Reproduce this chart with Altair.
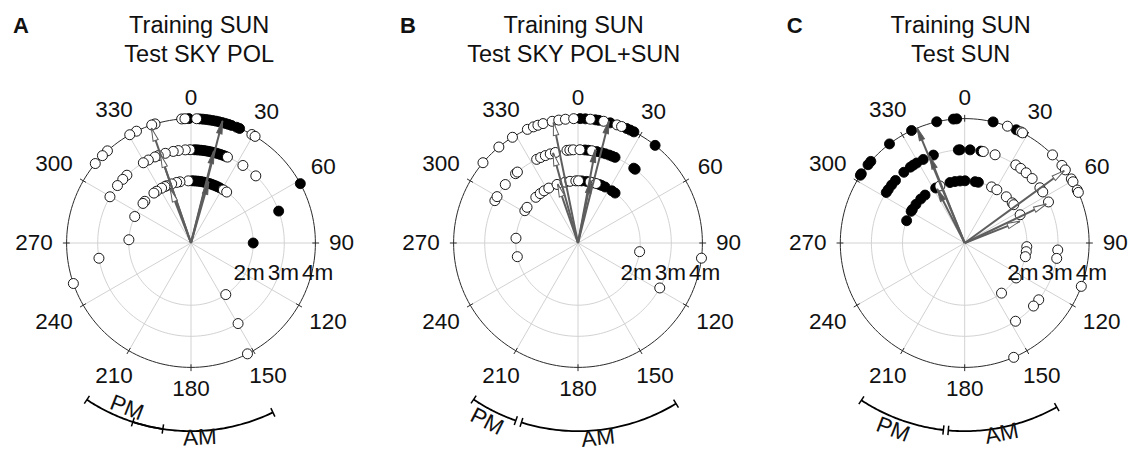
import altair as alt
import pandas as pd

# ---------------------------------------------------------------- geometry
PPM = 31.1                 # pixels per metre on the radial axis
PANEL_W, PANEL_H = 377, 450
CY = 243                   # vertical position of the pole in every panel
FONT = "Liberation Sans"
INK = "#111111"
GRID = "#d2d2d2"
ARROW = "#5e5e5e"
LABEL_SIZE = 22.5

# ---------------------------------------------------------------- shared axes
SPOKE_ANGLES = list(range(0, 360, 30))
ANGLE_TEXT = [str(a) for a in SPOKE_ANGLES]
GRID_RINGS = [2, 3]
OUTER_RING = 4
RING_LABELS = ["2m", "3m", "4m"]
RING_LABEL_DIST = [2, 3, 4]

# ---------------------------------------------------------------- panel A
A_TITLE = ["Training SUN", "Test SKY POL"]
A_FILLED_2M = [1, 3, 5, 7, 9, 11, 13, 15, 17, 19, 21, 23, 25, 27.5, 90]
A_OPEN_2M = [-2.5, -10.2, -13.3, -18.1, -23, -24.8, -28.2, -33.6, -36.6,
             -47.9, -50.5, -64.8, 273, 31.4, 35, 146]
A_FILLED_3M = [2, 3.5, 5, 6.5, 8, 9.5, 11, 12.5, 14, 15.5, 17, 18.5, 20, 21.5, 70]
A_OPEN_3M = [-0.6, -3.5, -7.8, -11, -16, -20.5, -22.7, -27.2, -30.7, -43.4,
             -47, -52, -60.3, 23, 33.8, 44, 149.7, 260.6]
A_FILLED_4M = [-1, 4, 5.5, 7, 8.5, 10, 11.5, 13, 14.5, 16, 17.5, 19, 21.5, 23, 61.5]
A_OPEN_4M = [-4.3, -2.8, 2.6, 29.3, 31, -16.8, -18.4, -26, -29.5, -42.2,
             -45.4, -50.3, 251, 153]
A_FILLED_VEC_ANG = [16, 14, 14.5]
A_FILLED_VEC_LEN = [2.05, 3.05, 4.05]
A_OPEN_VEC_ANG = [-21, -19, -19]
A_OPEN_VEC_LEN = [1.85, 3.0, 3.9]
A_PM_RANGE = [213.6, 188.6]
A_AM_RANGE = [198.0, 154.2]

# ---------------------------------------------------------------- panel B
B_TITLE = ["Training SUN", "Test SKY POL+SUN"]
B_FILLED_2M = [3.4, 8, 14.3, 20, 22.5, 25.8, 33, 36.6]
B_OPEN_2M = [-58.7, -55, -42.7, -37.4, -33, -28, -19.7, -12, -7.4, -2, 0.5,
             11.2, 17, 274.4, 257.3, 98]
B_FILLED_3M = [4.3, 6.3, 11.6, 14.7, 17, 19.5, 21.5, 23.4, 36.7, 37.8]
B_OPEN_3M = [-63, -60.2, -51.2, -42, -40.5, -26.3, -23.6, -20.5, -17.3, -14,
             -6.8, -5, -2.9, 1.2, 8.5, 118.8]
B_FILLED_4M = [1, 3.4, 8, 9.6, 15, 23, 24.8, 26.7, 38.3]
B_OPEN_4M = [-49.8, -39.5, -31.8, -24, -21, -18.8, -16.3, -12, -8.9, -5.8, -2,
             5.7, 11.9, 18.3, 20.5, 97]
B_FILLED_VEC_ANG = [11.5, 10.5, 14.2]
B_FILLED_VEC_LEN = [2.05, 3.05, 4.05]
B_OPEN_VEC_ANG = [-19, -15.5, -11.5]
B_OPEN_VEC_LEN = [2.0, 3.0, 3.95]
B_PM_RANGE = [213.7, 199.3]
B_AM_RANGE = [197.5, 148.6]

# ---------------------------------------------------------------- panel C
C_TITLE = ["Training SUN", "Test SUN"]
C_FILLED_2M = [-69, -59.4, -57.3, -51.6, -45, -39.6, -27.8, -13.7, -9, -4.3,
               0.3, 9.6, 12.7]
C_OPEN_2M = [-23.5, 25.6, 31.1, 42, 49.8, 52, 63, 93.4, 98, 102.7, 124.2, 143.7]
C_FILLED_3M = [-57.2, -55, -51.6, -47.9, -40.7, -35.6, -33.4, -31, -26.4,
               -19.6, -3.9, -2.9, 3.3, 10]
C_OPEN_3M = [11.5, 19, 33.2, 36.9, 41.2, 46.3, 53.7, 56.8, 63.9, 94.3, 99.5,
             127.5, 132.5, 147]
C_FILLED_4M = [-57, -56.2, -51, -49, -37.2, -25.3, -13, -5.2, -3.7, 13.2, 24.5]
C_OPEN_4M = [20.1, 26.7, 27.7, 44.9, 51.4, 54, 59, 60.5, 64.8, 66, 110.4, 156.8]
C_FILLED_VEC_ANG = [-27, -22, -22.5]
C_FILLED_VEC_LEN = [1.95, 3.0, 4.0]
C_OPEN_VEC_ANG = [68.5, 64.5, 54]
C_OPEN_VEC_LEN = [1.9, 2.9, 3.95]
C_PM_RANGE = [213.3, 186.5]
C_AM_RANGE = [185.0, 150.7]

# per-panel layout: pole x, title centre x, (angle, radius) of the AM / PM words
LAYOUT = {
    "A": dict(cx=191.0, title_x=199.2, pm=(201.3, 5.69), am=(177.4, 6.27)),
    "B": dict(cx=201.0, title_x=196.7, pm=(207.0, 6.45), am=(174.1, 6.31)),
    "C": dict(cx=210.7, title_x=206.7, pm=(201.0, 6.43), am=(169.0, 6.25)),
}

ARC_R = 6.05                     # radius of the AM/PM time bracket (m)
HEAD = "M0,-1L0.42,1L-0.42,1Z"   # arrow-head symbol, pointing up


def pol(r, a, px="x", py="y"):
    """Vega expressions turning (radius, compass angle) into x / y."""
    return {px: f"({r})*sin(({a})*PI/180)", py: f"({r})*cos(({a})*PI/180)"}


def frame(groups):
    rows = []
    for dist, angs in groups:
        rows += [dict(ang=a, dist=dist) for a in angs]
    return pd.DataFrame(rows)


def panel(key, title, filled, opened, fvec, ovec, pm_range, am_range):
    lay = LAYOUT[key]
    cx = lay["cx"]
    xs = alt.Scale(domain=[-cx / PPM, (PANEL_W - cx) / PPM], nice=False, zero=False)
    ys = alt.Scale(domain=[-(PANEL_H - CY) / PPM, CY / PPM], nice=False, zero=False)

    def X(f):
        return alt.X(f"{f}:Q", scale=xs, axis=None)

    def Y(f):
        return alt.Y(f"{f}:Q", scale=ys, axis=None)

    spokes_df = pd.DataFrame({"ang": SPOKE_ANGLES, "label": ANGLE_TEXT})
    layers = []

    # radial spokes
    layers.append(
        alt.Chart(spokes_df)
        .transform_calculate(x0="0", y0="0", **pol(OUTER_RING, "datum.ang", "x1", "y1"))
        .mark_rule(color=GRID, strokeWidth=1)
        .encode(x=X("x0"), y=Y("y0"), x2="x1:Q", y2="y1:Q")
    )
    # inner distance rings
    for ring in GRID_RINGS:
        layers.append(
            alt.Chart(alt.sequence(0, 362, 2, as_="ang"))
            .transform_calculate(**pol(ring, "datum.ang"))
            .mark_line(color=GRID, strokeWidth=1)
            .encode(x=X("x"), y=Y("y"), order=alt.Order("ang:Q"))
        )
    # outer ring and its ticks
    layers.append(
        alt.Chart(alt.sequence(0, 362, 2, as_="ang"))
        .transform_calculate(**pol(OUTER_RING, "datum.ang"))
        .mark_line(color="#2a2a2a", strokeWidth=1)
        .encode(x=X("x"), y=Y("y"), order=alt.Order("ang:Q"))
    )
    layers.append(
        alt.Chart(spokes_df)
        .transform_calculate(**pol(OUTER_RING - 0.1, "datum.ang", "xa", "ya"),
                             **pol(OUTER_RING + 0.12, "datum.ang", "xb", "yb"))
        .mark_rule(color="#2a2a2a", strokeWidth=1)
        .encode(x=X("xa"), y=Y("ya"), x2="xb:Q", y2="yb:Q")
    )

    # individual headings: filled first, open ones on top
    for df, fill in ((frame(filled), "black"), (frame(opened), "white")):
        layers.append(
            alt.Chart(df)
            .transform_calculate(**pol("datum.dist", "datum.ang"))
            .mark_point(shape="circle", filled=True, size=100, stroke="black",
                        strokeWidth=0.9, opacity=1)
            .encode(x=X("x"), y=Y("y"), fill=alt.value(fill))
        )

    # mean vectors
    for (angs, lens), fill in ((fvec, "#555555"), (ovec, "white")):
        vdf = pd.DataFrame({"ang": angs, "len": lens})
        layers.append(
            alt.Chart(vdf)
            .transform_calculate(x0="0", y0="0", **pol("datum.len", "datum.ang", "x1", "y1"))
            .mark_rule(color=ARROW, strokeWidth=2)
            .encode(x=X("x0"), y=Y("y0"), x2="x1:Q", y2="y1:Q")
        )
        layers.append(
            alt.Chart(vdf)
            .transform_calculate(rot="((datum.ang % 360) + 360) % 360",
                                 **pol("datum.len - 0.2", "datum.ang"))
            .mark_point(shape=HEAD, filled=True, size=169, stroke=ARROW,
                        strokeWidth=1, opacity=1)
            .encode(x=X("x"), y=Y("y"), fill=alt.value(fill),
                    angle=alt.Angle("rot:Q", scale=None))
        )

    # angle labels: pushed out by half their box along the spoke direction
    layers.append(
        alt.Chart(spokes_df)
        .transform_calculate(
            rr="(138 + length(datum.label)*6.3*abs(sin(datum.ang*PI/180))"
               " + 7.5*abs(cos(datum.ang*PI/180))) / 31.1")
        .transform_calculate(**pol("datum.rr", "datum.ang"))
        .mark_text(font=FONT, fontSize=LABEL_SIZE, color=INK, align="center",
                   baseline="middle")
        .encode(x=X("x"), y=Y("y"), text="label:N")
    )
    # distance labels
    layers.append(
        alt.Chart(pd.DataFrame({"label": RING_LABELS, "dist": RING_LABEL_DIST}))
        .transform_calculate(x="datum.dist*1.1 - 0.33", y="-0.97")
        .mark_text(font=FONT, fontSize=LABEL_SIZE, color=INK, align="center",
                   baseline="middle")
        .encode(x=X("x"), y=Y("y"), text="label:N")
    )

    # AM / PM time bracket
    for a0, a1 in (pm_range, am_range):
        layers.append(
            alt.Chart(alt.sequence(0, 1.001, 0.02, as_="t"))
            .transform_calculate(ang=f"{a0} + datum.t*({a1 - a0})")
            .transform_calculate(**pol(ARC_R, "datum.ang"))
            .mark_line(color="black", strokeWidth=1.8)
            .encode(x=X("x"), y=Y("y"), order=alt.Order("t:Q"))
        )
    ends = pd.DataFrame({"ang": list(pm_range) + list(am_range)})
    layers.append(
        alt.Chart(ends)
        .transform_calculate(**pol(ARC_R - 0.15, "datum.ang", "xa", "ya"),
                             **pol(ARC_R + 0.15, "datum.ang", "xb", "yb"))
        .mark_rule(color="black", strokeWidth=1.5)
        .encode(x=X("xa"), y=Y("ya"), x2="xb:Q", y2="yb:Q")
    )
    words = pd.DataFrame({"label": ["PM", "AM"],
                          "ang": [lay["pm"][0], lay["am"][0]],
                          "rad": [lay["pm"][1], lay["am"][1]]})
    layers.append(
        alt.Chart(words)
        .transform_calculate(rot="(datum.ang + 180) % 360", **pol("datum.rad", "datum.ang"))
        .mark_text(font=FONT, fontSize=LABEL_SIZE, color=INK, align="center",
                   baseline="middle")
        .encode(x=X("x"), y=Y("y"), text="label:N",
                angle=alt.Angle("rot:Q", scale=None))
    )

    # panel heading
    for i, line in enumerate(title):
        layers.append(
            alt.Chart(pd.DataFrame({"t": [line]}))
            .mark_text(font=FONT, fontSize=23.5, color=INK, align="center",
                       baseline="alphabetic")
            .encode(x=alt.value(lay["title_x"]), y=alt.value(33.3 + 28.4 * i), text="t:N")
        )
    layers.append(
        alt.Chart(pd.DataFrame({"t": [key]}))
        .mark_text(font=FONT, fontSize=22, fontWeight="bold", color=INK,
                   align="left", baseline="alphabetic")
        .encode(x=alt.value(cx - 178), y=alt.value(33.3), text="t:N")
    )

    return alt.layer(*layers).properties(width=PANEL_W, height=PANEL_H)


pa = panel("A", A_TITLE,
           [(2, A_FILLED_2M), (3, A_FILLED_3M), (4, A_FILLED_4M)],
           [(2, A_OPEN_2M), (3, A_OPEN_3M), (4, A_OPEN_4M)],
           (A_FILLED_VEC_ANG, A_FILLED_VEC_LEN), (A_OPEN_VEC_ANG, A_OPEN_VEC_LEN),
           A_PM_RANGE, A_AM_RANGE)
pb = panel("B", B_TITLE,
           [(2, B_FILLED_2M), (3, B_FILLED_3M), (4, B_FILLED_4M)],
           [(2, B_OPEN_2M), (3, B_OPEN_3M), (4, B_OPEN_4M)],
           (B_FILLED_VEC_ANG, B_FILLED_VEC_LEN), (B_OPEN_VEC_ANG, B_OPEN_VEC_LEN),
           B_PM_RANGE, B_AM_RANGE)
pc = panel("C", C_TITLE,
           [(2, C_FILLED_2M), (3, C_FILLED_3M), (4, C_FILLED_4M)],
           [(2, C_OPEN_2M), (3, C_OPEN_3M), (4, C_OPEN_4M)],
           (C_FILLED_VEC_ANG, C_FILLED_VEC_LEN), (C_OPEN_VEC_ANG, C_OPEN_VEC_LEN),
           C_PM_RANGE, C_AM_RANGE)

chart = (
    alt.hconcat(pa, pb, pc, spacing=0, bounds="flush")
    .properties(padding=0, background="white")
    .configure_view(stroke=None)
)

chart.save("out.html", embed_options={"renderer": "svg", "actions": False})
